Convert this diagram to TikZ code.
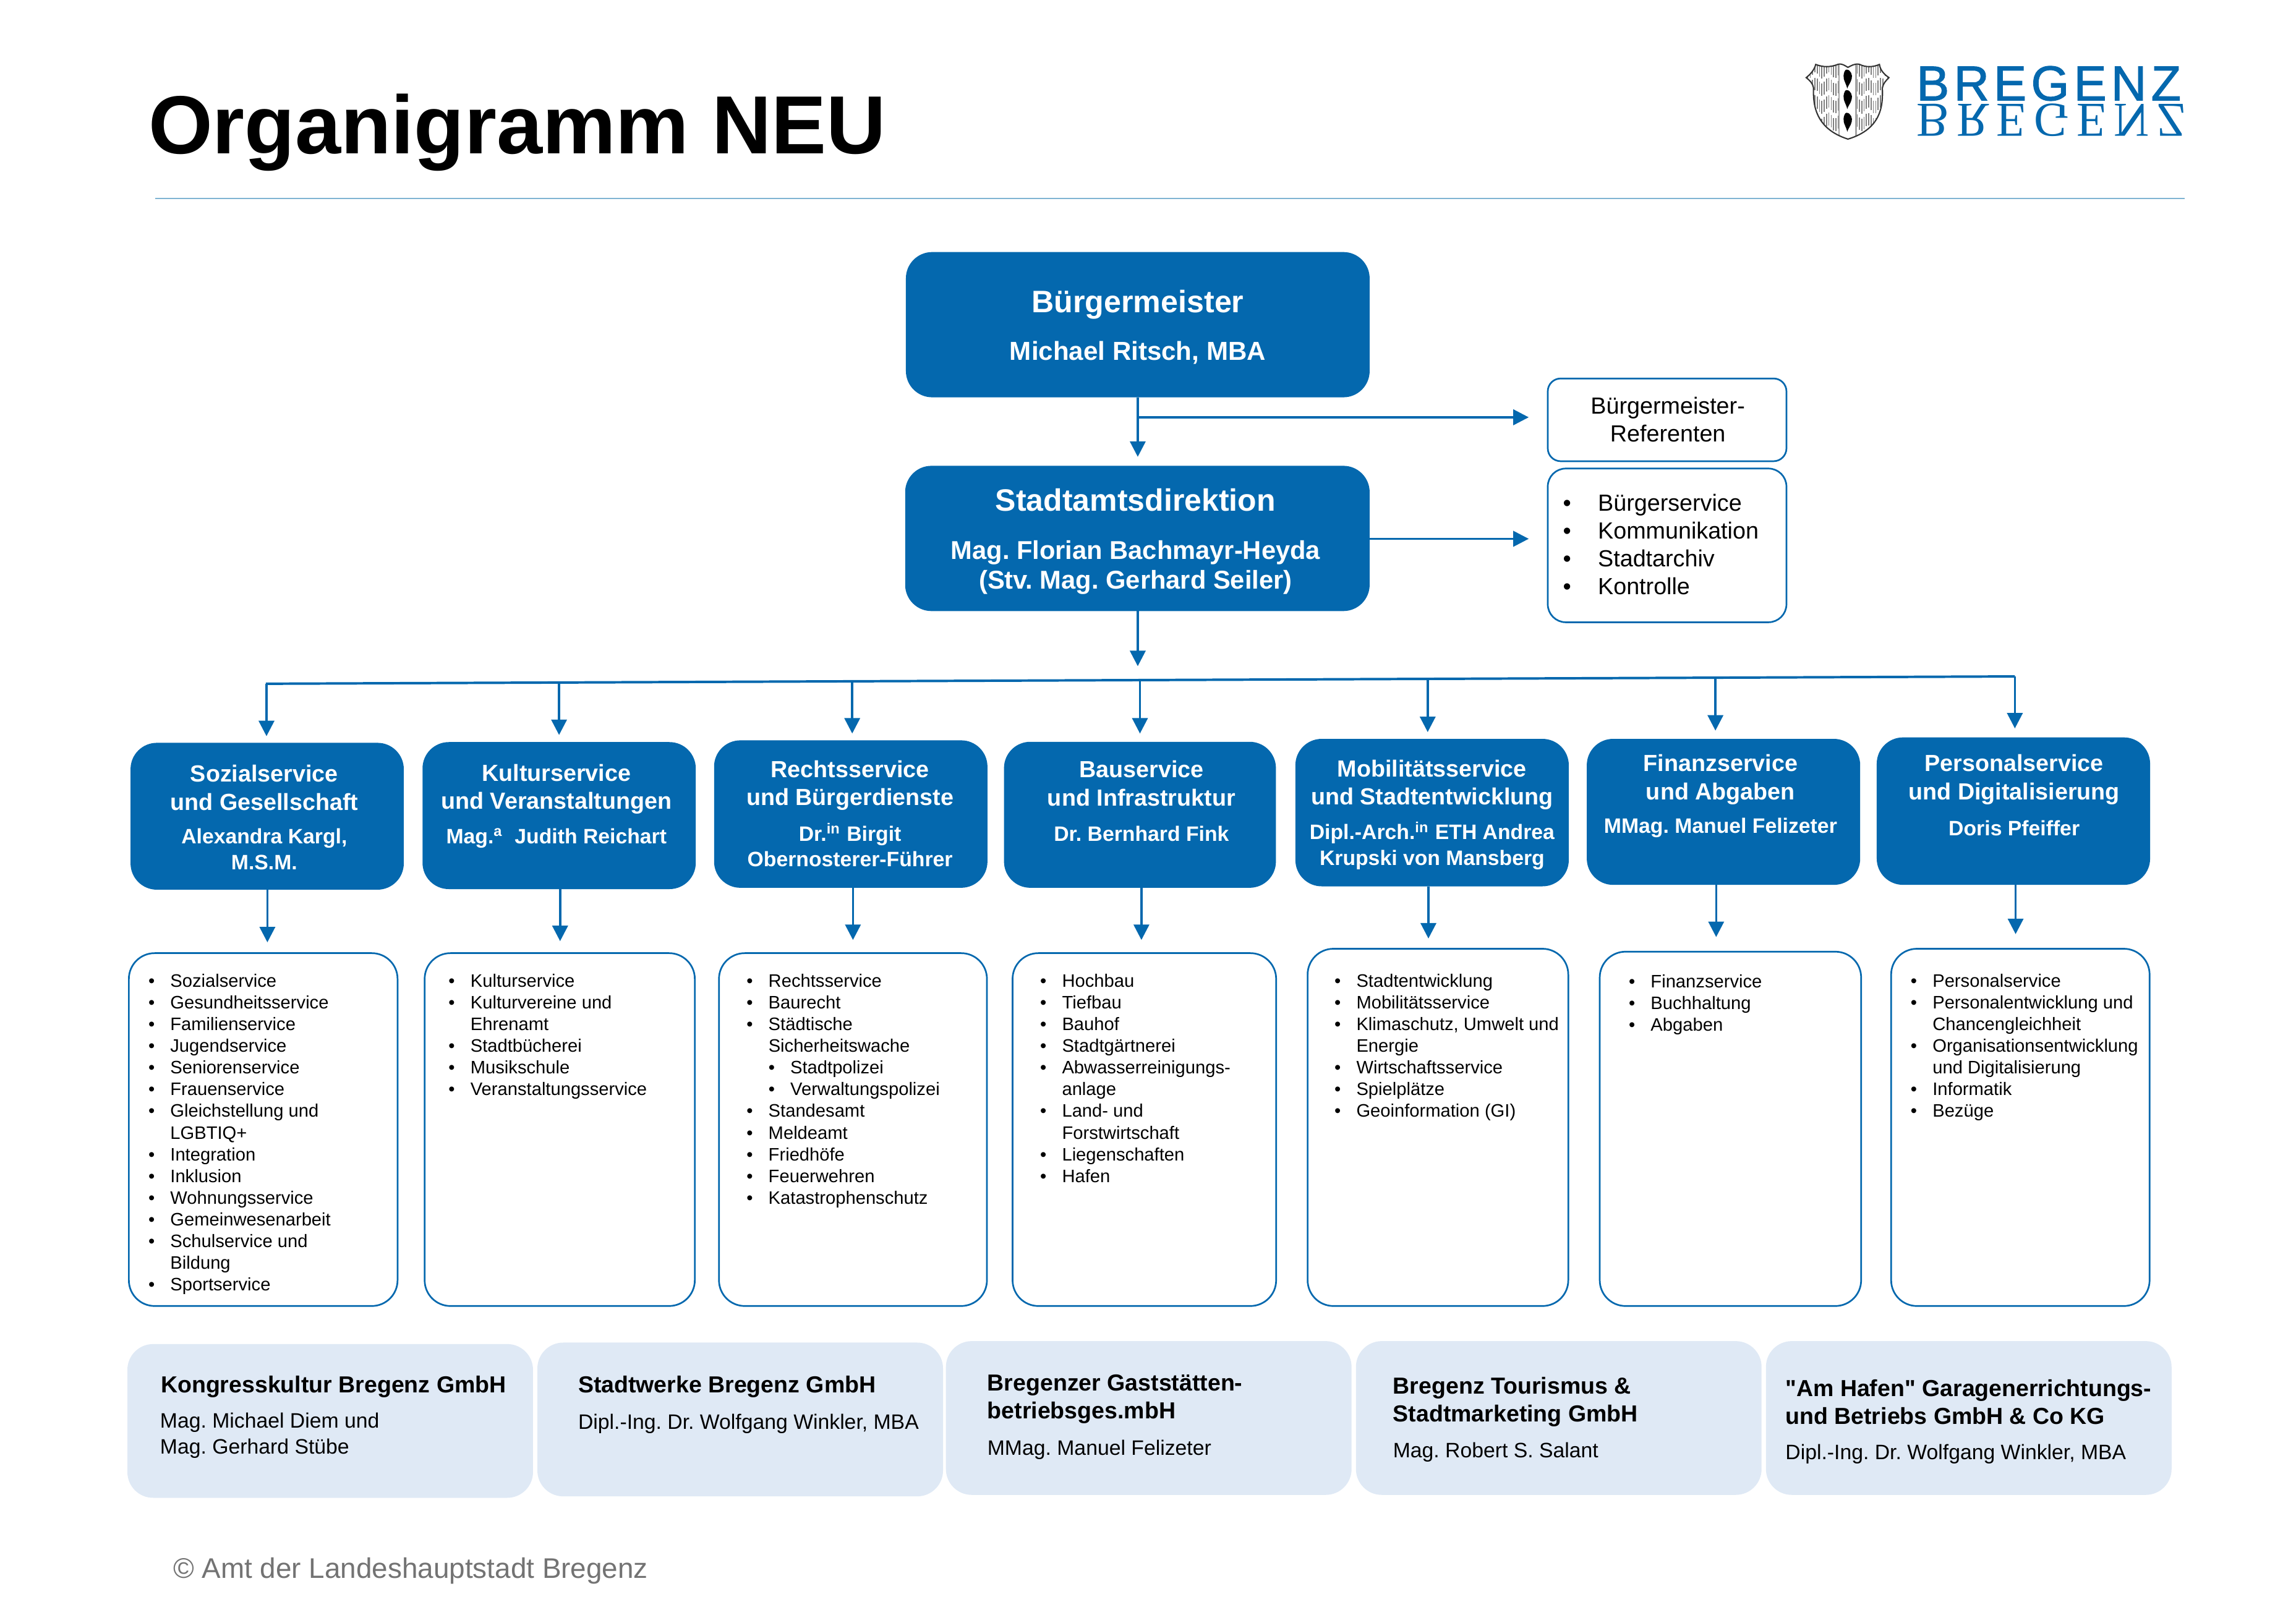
\documentclass[tikz,border=0pt]{standalone}
\usepackage{fontspec}
\setmainfont{Liberation Sans}
\newfontfamily\rawsans{Liberation Sans}
\newfontfamily\logoserif{Liberation Serif}
\usetikzlibrary{arrows.meta,fit,calc}
\definecolor{bblue}{HTML}{0468AE}
\definecolor{lblue}{HTML}{DFE9F5}
\definecolor{rulec}{HTML}{7FB4D2}
\AtBeginDocument{\frenchspacing}
\newcommand{\fs}[2]{\fontsize{#1}{#2}\selectfont}
\newcommand{\bl}[1]{\makebox[8.5pt][l]{•}#1\\}
\newcommand{\cn}[1]{\hspace*{8.5pt}#1\\}
\newcommand{\sbl}[1]{\hspace*{8.5pt}\makebox[8.5pt][l]{•}#1\\}
\newcommand{\blb}[1]{\makebox[13.6pt][l]{•}#1\\}
\tikzset{
 conn/.style={draw=bblue,line width=0.85pt,-{Triangle[length=6pt,width=6pt]}},
 bus/.style={draw=bblue,line width=0.95pt},
 head/.style={fill=bblue,draw=bblue,rounded corners=10pt,inner sep=0pt},
 listb/.style={draw=bblue,line width=0.65pt,fill=white,rounded corners=10pt,inner sep=0pt},
 smallb/.style={draw=bblue,line width=0.65pt,fill=white,rounded corners=5pt,inner sep=0pt},
 firm/.style={fill=lblue,rounded corners=10pt,inner sep=0pt},
 deptH/.style={text=white,align=center,inner sep=0pt,font=\bfseries\fs{9.05}{10.9}},
 deptN/.style={text=white,align=center,inner sep=0pt,font=\bfseries\fs{8.1}{9.9}},
 lst/.style={anchor=north west,align=left,inner sep=0pt,font=\fs{7}{8.41}},
 firmH/.style={anchor=west,align=left,inner sep=0pt,font=\bfseries\fs{9}{10.8}},
 firmN/.style={anchor=west,align=left,inner sep=0pt,font=\fs{8.1}{9.9}},
}
\begin{document}
\begin{tikzpicture}[x=0.5683pt,y=-0.5683pt]
\useasboundingbox (0,0) rectangle (1568,1108.5);
\fill[white] (0,0) rectangle (1568,1108.5);
% title
\node[anchor=base west,inner sep=0pt,font=\bfseries\fs{32}{36}] (title) at (101,105) {Organigramm NEU};
\coordinate (ruleL) at (106,135.5);
\coordinate (ruleR) at (1492,135.5);
\draw[rulec,line width=0.5pt] (ruleL) -- (ruleR);
% logo
\node[anchor=base west,inner sep=0pt,text=bblue,font=\fs{19}{20}\addfontfeature{LetterSpace=9.5,FakeBold=1.5}] (logoA) at (1308.5,68.5) {BREGENZ};
\node[anchor=base west,inner sep=0pt,text=bblue,yscale=-1,transform shape,font=\logoserif\fs{18.9}{20}\addfontfeature{LetterSpace=15.5}] (logoB) at (1308.5,71) {BREGENZ};
\def\shieldpath{(1240,44) .. controls (1245,46) and (1250,46) .. (1255,44) .. controls (1258,43) and (1260,45) .. (1262,46) .. controls (1264,45) and (1267,43) .. (1270,44) .. controls (1274,46) and (1279,46) .. (1283.5,44) .. controls (1284,48) and (1287,51) .. (1290,53) .. controls (1288,55) and (1286,57) .. (1285.5,60) .. controls (1286,72) and (1285,88) .. (1262,95) .. controls (1240,88) and (1238,72) .. (1238.5,60) .. controls (1238,57) and (1236,55) .. (1233.5,53) .. controls (1236,51) and (1239,48) .. (1240,44) -- cycle}
\begin{scope}
\clip \shieldpath;
\foreach \r in {43,55,67,79}{
 \foreach \i in {0,...,36}{
  \pgfmathsetmacro\xx{1233+1.6*\i}
  \pgfmathsetmacro\off{2*sin(\i*1.6*40)}
  \draw[black!50,line width=0.4pt] (\xx,{\r+\off}) -- (\xx,{\r+\off+8.5});
 }
}
\fill[white] (1256,40) rectangle (1267.5,100);
\draw[black!35,line width=0.5pt] (1256,40) -- (1256,100) (1267.5,40) -- (1267.5,100);
\end{scope}
\draw[black!80,line width=0.5pt] \shieldpath;
\foreach \yy in {53.5,67.5,83}{
 \begin{scope}[shift={(1262,\yy)}]
 \fill[black] (-1,-6) .. controls (2,-6) and (3.2,-2) .. (2.6,0) .. controls (2,3) and (0,5) .. (-0.5,7) .. controls (-1,4) and (-3.4,1) .. (-3,-2) .. controls (-2.8,-4) and (-2,-6) .. (-1,-6) -- cycle;
 \end{scope}
}
% top boxes
\node[head,fit={(619,172.5)(935,271)}] (bm) {};
\node[text=white,inner sep=0pt,align=center,font=\bfseries\fs{12.05}{14}] (bmA) at (777,208) {Bürgermeister};
\node[text=white,inner sep=0pt,align=center,font=\bfseries\fs{10.1}{12}] (bmB) at (777,241) {Michael Ritsch, MBA};
\node[head,fit={(618.5,318.5)(935,417)}] (sd) {};
\node[text=white,inner sep=0pt,align=center,font=\bfseries\fs{12}{14}] (sdA) at (775.5,341.5) {Stadtamtsdirektion};
\node[text=white,inner sep=0pt,align=center,font=\bfseries\fs{10}{11.6}] (sdB) at (775.5,387.5) {Mag. Florian Bachmayr-Heyda\\(Stv. Mag. Gerhard Seiler)};
\node[smallb,fit={(1057,258.5)(1220,315)}] (ref) {};
\node[inner sep=0pt,align=center,font=\fs{9.05}{10.9}] (refT) at (1139,286.5) {Bürgermeister-\\Referenten};
\node[smallb,rounded corners=7pt,fit={(1057,320)(1220,425)}] (sl) {};
\node[anchor=north west,align=left,inner sep=0pt,font=\fs{9.05}{10.85}] (slT) at (1067,337) {\blb{Bürgerservice}\blb{Kommunikation}\blb{Stadtarchiv}\blb{Kontrolle}};
% connectors top
\coordinate (busL) at (181.5,467);
\coordinate (busR) at (1376,462);
\coordinate (tipSd) at (777,312);
\coordinate (branch) at (777,285);
\coordinate (tipRef) at (1044,285);
\coordinate (tipSl) at (1044,368);
\coordinate (tipBus) at (777,455);
\draw[conn] (bm.south -| tipSd) -- (tipSd);
\draw[conn] (branch) -- (tipRef);
\draw[conn] (sd.east |- tipSl) -- (tipSl);
\draw[conn] (sd.south -| tipBus) -- (tipBus);
\draw[bus] (busL) -- (busR);
% departments
\node[head,fit={(89.5,507.7)(275.4,607.3)}] (d1) {};
\node[head,fit={(288.9,507.2)(474.8,606.9)}] (d2) {};
\node[head,fit={(488,506)(674,606)}] (d3) {};
\node[head,fit={(686,507)(871,606)}] (d4) {};
\node[head,fit={(885,505)(1071,605)}] (d5) {};
\node[head,fit={(1084,505)(1270,604)}] (d6) {};
\node[head,fit={(1282,504)(1468,604)}] (d7) {};
\node[deptH] (d1h) at (180.5,538) {Sozialservice\\und Gesellschaft};
\node[deptN] (d1n) at (180.5,580) {Alexandra Kargl,\\M.S.M.};
\node[deptH] (d2h) at (380,539) {Kulturservice\\und Veranstaltungen};
\node[deptN] (d2n) at (380,572.5) {Mag.\textsuperscript{a}\ \ Judith Reichart};
\node[deptH] (d3h) at (580.5,536.5) {Rechtsservice\\und Bürgerdienste};
\node[deptN] (d3n) at (580.5,577) {Dr.\textsuperscript{in} Birgit\\Obernosterer-Führer};
\node[deptH] (d4h) at (779.5,535) {Bauservice\\und Infrastruktur};
\node[deptN] (d4n) at (779.5,569.5) {Dr. Bernhard Fink};
\node[deptH] (d5h) at (978,536) {Mobilitätsservice\\und Stadtentwicklung};
\node[deptN] (d5n) at (978,577.5) {Dipl.-Arch.\textsuperscript{in}\ ETH Andrea\\Krupski von Mansberg};
\node[deptH] (d6h) at (1175,532.5) {Finanzservice\\und Abgaben};
\node[deptN] (d6n) at (1175,565.5) {MMag. Manuel Felizeter};
\node[deptH] (d7h) at (1375.5,532.5) {Personalservice\\und Digitalisierung};
\node[deptN] (d7n) at (1375.5,565.5) {Doris Pfeiffer};
% bus drops
\coordinate (b1) at (182,502.8);
\coordinate (b2) at (381.8,502);
\coordinate (b3) at (582,501);
\coordinate (b4) at (778.5,501);
\coordinate (b5) at (975,500);
\coordinate (b6) at (1171.5,499);
\coordinate (b7) at (1376,497.5);
\foreach \n/\f in {1/0,2/0.1676,3/0.3352,4/0.4998,5/0.6640,6/0.8286,7/1}{
 \draw[conn] (b\n |- {$(busL)!\f!(busR)$}) -- (b\n);
}
% list boxes
\node[listb,fit={(88,651)(271.5,892)}] (l1) {};
\node[listb,fit={(290,651)(474.5,892)}] (l2) {};
\node[listb,fit={(491,651)(674,892)}] (l3) {};
\node[listb,fit={(691.5,651)(871.5,892)}] (l4) {};
\node[listb,fit={(893,648)(1071,892)}] (l5) {};
\node[listb,fit={(1092.5,650)(1271,892)}] (l6) {};
\node[listb,fit={(1291.5,648)(1468,892)}] (l7) {};
% dept to list
\coordinate (t1) at (182.6,643.6);
\coordinate (t2) at (382.5,642.8);
\coordinate (t3) at (582.5,642);
\coordinate (t4) at (779.5,642);
\coordinate (t5) at (975.5,641);
\coordinate (t6) at (1172,640);
\coordinate (t7) at (1376.5,638);
\foreach \n in {1,...,7}{\draw[conn] (d\n.south -| t\n) -- (t\n);}
% list texts
\node[lst] (l1t) at (101,665) {\bl{Sozialservice}\bl{Gesundheitsservice}\bl{Familienservice}\bl{Jugendservice}\bl{Seniorenservice}\bl{Frauenservice}\bl{Gleichstellung und}\cn{LGBTIQ+}\bl{Integration}\bl{Inklusion}\bl{Wohnungsservice}\bl{Gemeinwesenarbeit}\bl{Schulservice und}\cn{Bildung}\bl{Sportservice}};
\node[lst] (l2t) at (306,665) {\bl{Kulturservice}\bl{Kulturvereine und}\cn{Ehrenamt}\bl{Stadtbücherei}\bl{Musikschule}\bl{Veranstaltungsservice}};
\node[lst] (l3t) at (509.5,665) {\bl{Rechtsservice}\bl{Baurecht}\bl{Städtische}\cn{Sicherheitswache}\sbl{Stadtpolizei}\sbl{Verwaltungspolizei}\bl{Standesamt}\bl{Meldeamt}\bl{Friedhöfe}\bl{Feuerwehren}\bl{Katastrophenschutz}};
\node[lst] (l4t) at (710,665) {\bl{Hochbau}\bl{Tiefbau}\bl{Bauhof}\bl{Stadtgärtnerei}\bl{Abwasserreinigungs-}\cn{anlage}\bl{Land- und}\cn{Forstwirtschaft}\bl{Liegenschaften}\bl{Hafen}};
\node[lst] (l5t) at (911,665) {\bl{Stadtentwicklung}\bl{Mobilitätsservice}\bl{Klimaschutz, Umwelt und}\cn{Energie}\bl{Wirtschaftsservice}\bl{Spielplätze}\bl{Geoinformation (GI)}};
\node[lst] (l6t) at (1112,665.5) {\bl{Finanzservice}\bl{Buchhaltung}\bl{Abgaben}};
\node[lst] (l7t) at (1304.5,665) {\bl{Personalservice}\bl{Personalentwicklung und}\cn{Chancengleichheit}\bl{Organisationsentwicklung}\cn{und Digitalisierung}\bl{Informatik}\bl{Bezüge}};
% companies
\node[firm,fit={(87,918)(364,1023)}] (f1) {};
\node[firm,fit={(367,917)(644,1022)}] (f2) {};
\node[firm,fit={(646,916)(923,1021)}] (f3) {};
\node[firm,fit={(926,916)(1203,1021)}] (f4) {};
\node[firm,fit={(1206,916)(1483,1021)}] (f5) {};
\node[firmH] (f1h) at (109.5,947) {Kongresskultur Bregenz GmbH};
\node[firmN] (f1n) at (109,980.5) {Mag. Michael Diem und\\Mag. Gerhard Stübe};
\node[firmH] (f2h) at (394.5,947) {Stadtwerke Bregenz GmbH};
\node[firmN] (f2n) at (394.5,972.5) {Dipl.-Ing. Dr. Wolfgang Winkler, MBA};
\node[firmH] (f3h) at (674,955.5) {Bregenzer Gaststätten-\\betriebsges.mbH};
\node[firmN] (f3n) at (674,990) {MMag. Manuel Felizeter};
\node[firmH] (f4h) at (951,957.5) {Bregenz Tourismus \&\\Stadtmarketing GmbH};
\node[firmN] (f4n) at (951,992) {Mag. Robert S. Salant};
\node[firmH] (f5h) at (1219,957.5) {{\rawsans\bfseries"}Am Hafen{\rawsans\bfseries"} Garagenerrichtungs-\\und Betriebs GmbH \& Co KG};
\node[firmN] (f5n) at (1219,993) {Dipl.-Ing. Dr. Wolfgang Winkler, MBA};
% footer
\node[anchor=base west,inner sep=0pt,text=black!55,font=\fs{11}{13}] (foot) at (118,1078) {© Amt der Landeshauptstadt Bregenz};
\end{tikzpicture}
\end{document}
